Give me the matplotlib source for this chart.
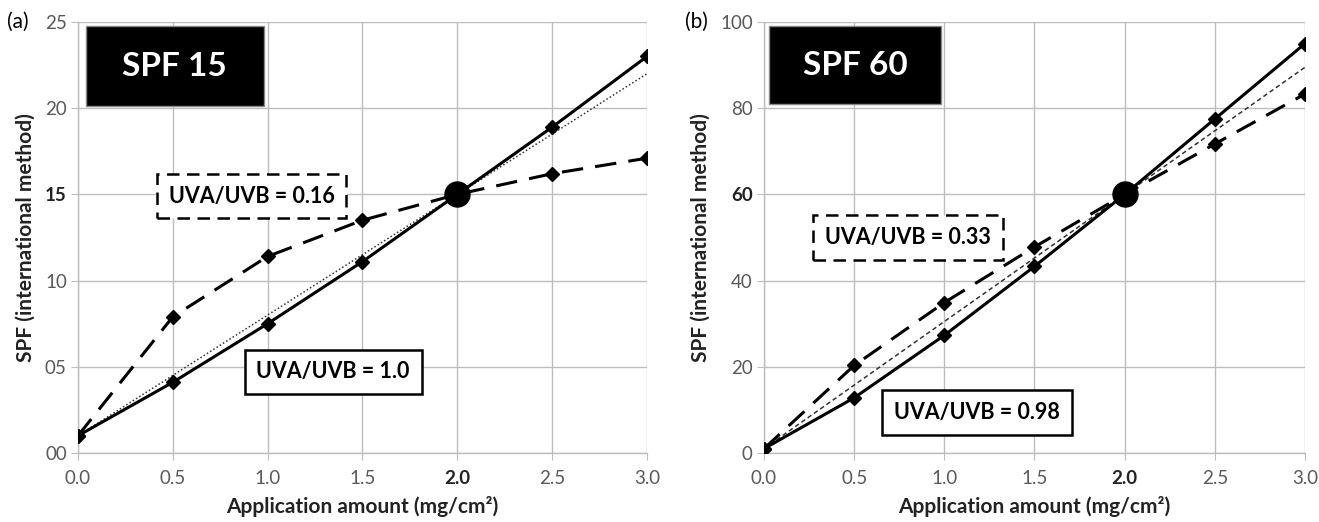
import matplotlib
matplotlib.use("Agg")
import matplotlib.pyplot as plt

plt.rcParams["font.family"] = ["Lato", "DejaVu Sans"]

x = [0.0, 0.5, 1.0, 1.5, 2.0, 2.5, 3.0]

# SPF 15 panel
spf15_solid = [1.0, 4.1, 7.5, 11.1, 15.0, 18.9, 23.0]
spf15_dashed = [1.0, 7.9, 11.4, 13.5, 15.0, 16.2, 17.1]
spf15_ref_x = [0.0, 3.0]
spf15_ref_y = [1.0, 22.0]

# SPF 60 panel
spf60_solid = [1.0, 12.8, 27.3, 43.3, 60.0, 77.5, 95.0]
spf60_dashed = [1.0, 20.3, 34.9, 47.8, 60.0, 71.7, 83.3]
spf60_ref_x = [0.0, 3.0]
spf60_ref_y = [1.0, 89.5]

xticks = [0.0, 0.5, 1.0, 1.5, 2.0, 2.5, 3.0]
xtick_labels = ["0.0", "0.5", "1.0", "1.5", "2.0", "2.5", "3.0"]
yticks_a = [0, 5, 10, 15, 20, 25]
ytick_labels_a = ["00", "05", "10", "15", "20", "25"]
yticks_b = [0, 20, 40, 60, 80, 100]
ytick_labels_b = ["0", "20", "40", "60", "80", "100"]

GRAY = "#595959"
GRID = "#bdbdbd"

fig = plt.figure(figsize=(13.19, 5.22), dpi=100)
ax_a = fig.add_axes([0.0591, 0.1322, 0.4314, 0.8257])
ax_b = fig.add_axes([0.5792, 0.1322, 0.4102, 0.8257])


def style_axes(ax, yticks, ylabels, ymax, bold_y):
    ax.set_xlim(0, 3.0)
    ax.set_ylim(0, ymax)
    ax.set_xticks(xticks)
    ax.set_xticklabels(xtick_labels)
    ax.set_yticks(yticks)
    ax.set_yticklabels(ylabels)
    ax.grid(True, color=GRID, linewidth=1.0)
    ax.set_axisbelow(True)
    for s in ["top", "right"]:
        ax.spines[s].set_visible(False)
    for s in ["left", "bottom"]:
        ax.spines[s].set_color(GRID)
        ax.spines[s].set_linewidth(1.0)
    ax.tick_params(axis="x", colors=GRID, labelcolor=GRAY,
                   labelsize=13.5, length=5, pad=7)
    ax.tick_params(axis="y", colors=GRID, labelcolor=GRAY, labelsize=13.5,
                   length=5, pad=3)
    for lbl in ax.get_xticklabels():
        if lbl.get_text() == "2.0":
            lbl.set_fontweight("bold")
            lbl.set_color("#222222")
    for lbl in ax.get_yticklabels():
        if lbl.get_text() == bold_y:
            lbl.set_fontweight("bold")
            lbl.set_color("#222222")
    ax.set_xlabel("Application amount (mg/cm²)", fontsize=15, fontweight="bold",
                  color="#222222", labelpad=7)
    ax.set_ylabel("SPF (international method)", fontsize=15, fontweight="bold",
                  color="#222222", labelpad=7)


def draw_panel(ax, solid, dashed, ref_x, ref_y, ref_style, center):
    ax.plot(ref_x, ref_y, color="#333333", linestyle=ref_style, linewidth=1.1,
            zorder=2)
    ax.plot(x, solid, color="black", linewidth=2.2, marker="D",
            markersize=7.5, zorder=3)
    ax.plot(x, dashed, color="black", linewidth=2.2, linestyle=(0, (7, 4)),
            marker="D", markersize=7.5, zorder=3)
    ax.plot([center[0]], [center[1]], "o", color="black", markersize=18,
            zorder=4)


def label_box(ax, xy, text, dashed=False):
    ls = (0, (5, 3)) if dashed else "-"
    ax.text(xy[0], xy[1], text, fontsize=15.5, fontweight="bold", color="black",
            ha="center", va="center", zorder=5,
            bbox=dict(boxstyle="square,pad=0.55", facecolor="white",
                      edgecolor="black", linewidth=1.8, linestyle=ls))


# panel (a)
style_axes(ax_a, yticks_a, ytick_labels_a, 25, "15")
draw_panel(ax_a, spf15_solid, spf15_dashed, spf15_ref_x, spf15_ref_y,
           (0, (1, 1.5)), (2.0, 15.0))
ax_a.add_patch(plt.Rectangle((0.04, 20.1), 0.94, 4.65, facecolor="black",
                             edgecolor="#888888", linewidth=1, zorder=5))
ax_a.text(0.51, 22.4, "SPF 15", color="white", fontsize=24, fontweight="bold",
          ha="center", va="center", zorder=6)
label_box(ax_a, (0.915, 14.9), "UVA/UVB = 0.16", dashed=True)
label_box(ax_a, (1.345, 4.7), "UVA/UVB = 1.0")
fig.text(0.005, 0.958, "(a)", fontsize=15, ha="left", va="center")

# panel (b)
style_axes(ax_b, yticks_b, ytick_labels_b, 100, "60")
draw_panel(ax_b, spf60_solid, spf60_dashed, spf60_ref_x, spf60_ref_y,
           (0, (3, 2)), (2.0, 60.0))
ax_b.add_patch(plt.Rectangle((0.03, 81.0), 0.95, 18.1, facecolor="black",
                             edgecolor="#888888", linewidth=1, zorder=5))
ax_b.text(0.505, 90.0, "SPF 60", color="white", fontsize=24, fontweight="bold",
          ha="center", va="center", zorder=6)
label_box(ax_b, (0.8, 50.0), "UVA/UVB = 0.33", dashed=True)
label_box(ax_b, (1.18, 9.4), "UVA/UVB = 0.98")
fig.text(0.519, 0.958, "(b)", fontsize=15, ha="left", va="center")

fig.savefig("out.png", dpi=100, facecolor="white")
